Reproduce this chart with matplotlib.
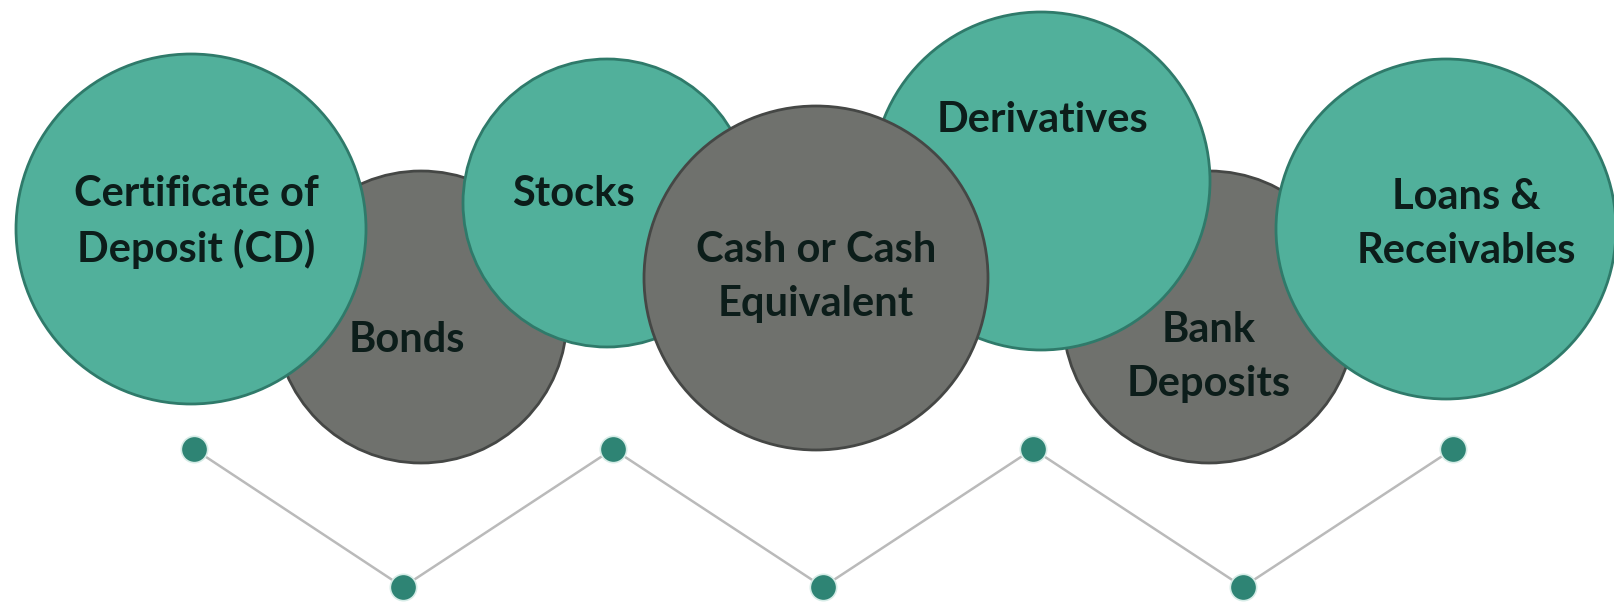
import matplotlib.pyplot as plt
from matplotlib.patches import Circle

# asset classes shown in the bubbles
labels = ['Certificate of\nDeposit (CD)', 'Bonds', 'Stocks', 'Cash or Cash\nEquivalent',
          'Derivatives', 'Bank\nDeposits', 'Loans &\nReceivables']
kind = ['teal', 'gray', 'teal', 'gray', 'teal', 'gray', 'teal']

# layout in pixel units (figure is 1614 x 604)
cx = [191, 421, 607, 816, 1041, 1209, 1446]
cy = [229, 317, 203, 278, 181, 317, 229]
rad = [175, 146, 144, 172, 169, 146, 170]
tx = [196, 407, 573, 816, 1042, 1209, 1466]
ty = [222, 340, 194, 277, 120, 357, 224]
zorder = [3, 1, 3, 5, 3, 1, 3]

# zigzag of dots under the bubbles
dot_x = [194, 403, 613, 823, 1033, 1243, 1453]
dot_y = [449, 587, 449, 587, 449, 587, 449]

fill = {'teal': '#51b09b', 'gray': '#6f716d'}
edge = {'teal': '#2f7a6a', 'gray': '#454745'}

fig = plt.figure(figsize=(16.14, 6.04), dpi=100)
ax = fig.add_axes([0, 0, 1, 1])
ax.set_xlim(0, 1614)
ax.set_ylim(604, 0)
ax.set_aspect('equal')
ax.axis('off')

for i, lab in enumerate(labels):
    c = Circle((cx[i], cy[i]), rad[i], facecolor=fill[kind[i]], edgecolor=edge[kind[i]],
               linewidth=2, zorder=zorder[i])
    ax.add_patch(c)
    ax.text(tx[i], ty[i], lab, ha='center', va='center', fontsize=30, fontweight='bold',
            family='Lato', color='#0c1d1a', linespacing=1.5, zorder=zorder[i] + 0.5)

ax.plot(dot_x, dot_y, color='#bababa', linewidth=1.8, zorder=6)
ax.scatter(dot_x, dot_y, s=360, color='#2e8474', edgecolors='#d6ece7', linewidths=1.2, zorder=7)

fig.savefig('out.png', dpi=100)
